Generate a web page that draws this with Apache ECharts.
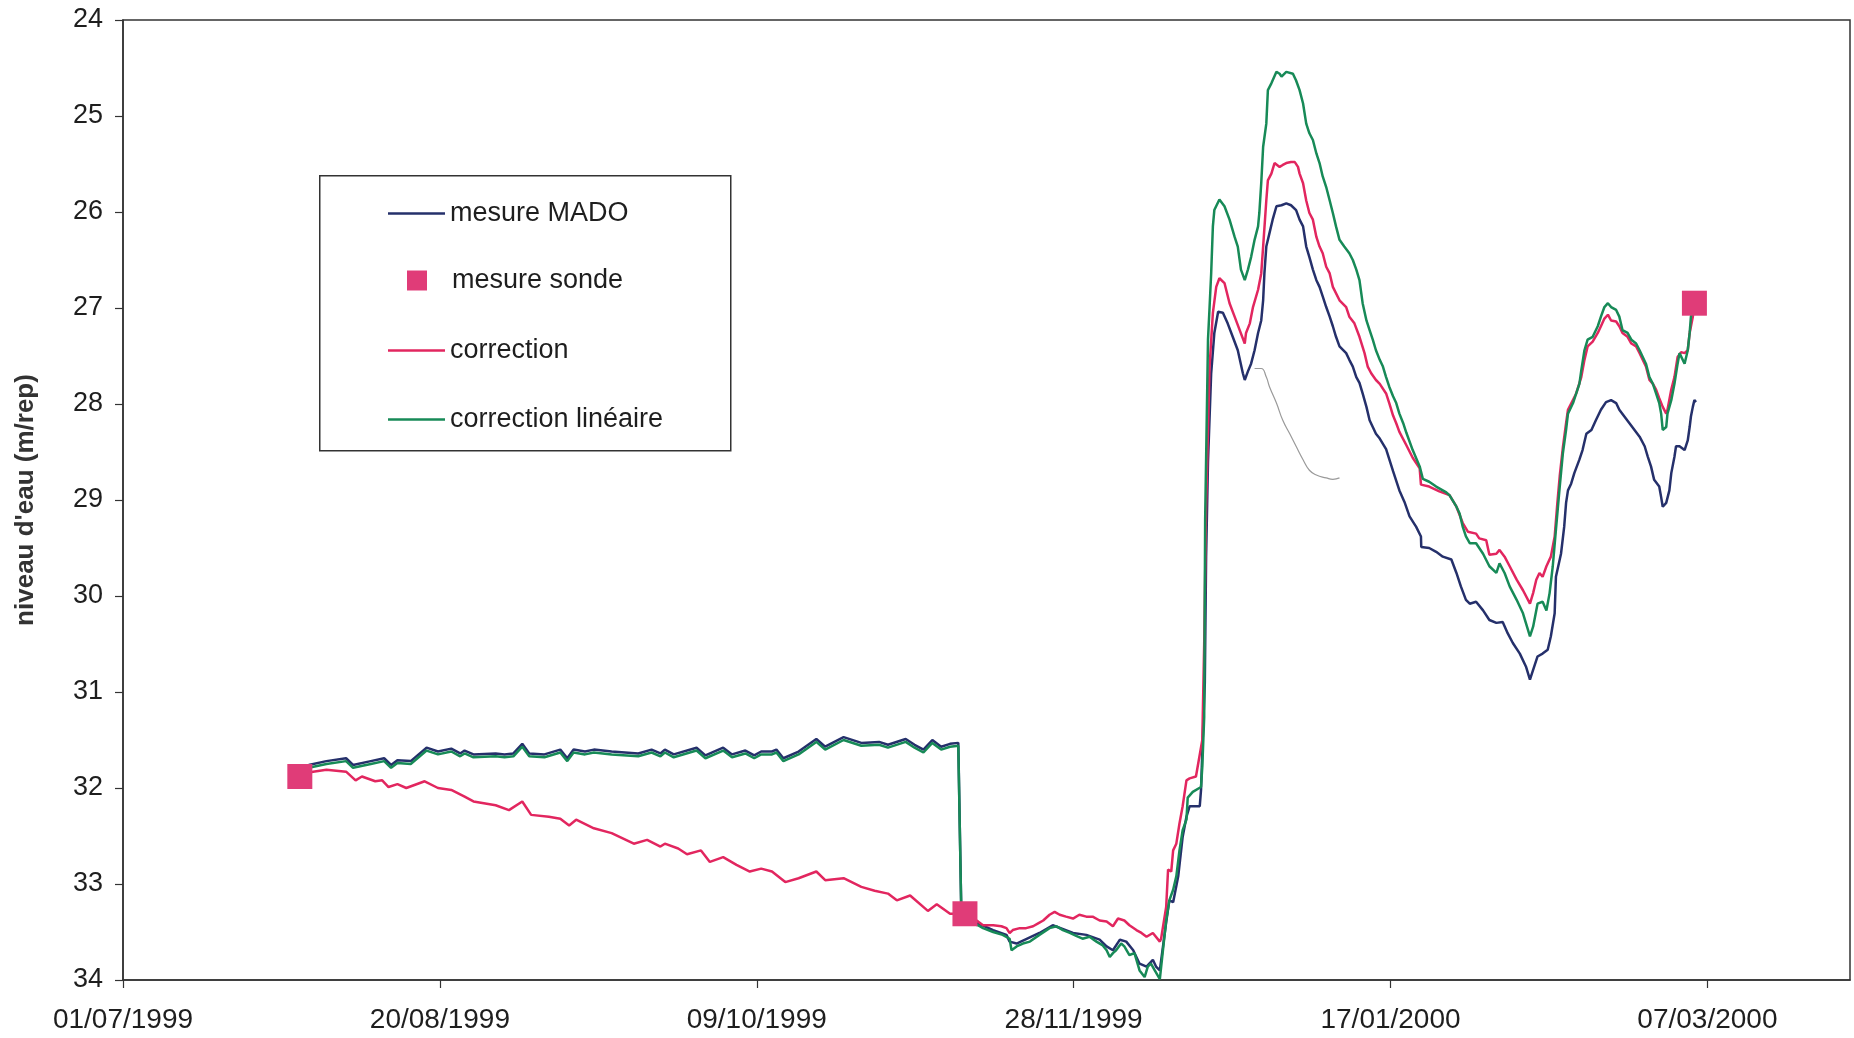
<!DOCTYPE html>
<html>
<head>
<meta charset="utf-8">
<script src="https://cdn.jsdelivr.net/npm/echarts@6/dist/echarts.min.js"></script>
<style>
html,body{margin:0;padding:0;background:#fff;}
#chart{width:1854px;height:1038px;}
</style>
</head>
<body>
<div id="chart"></div>
<script>
// ---------- DATA (x = days since 01/07/1999, y = niveau d'eau in m/rep) ----------
const xTickLabels = ['01/07/1999', '20/08/1999', '09/10/1999', '28/11/1999', '17/01/2000', '07/03/2000'];

const madoDays = [29.3, 32.1, 35.2, 36.3, 39.1, 41.2, 42.3, 43.3, 45.4, 47.9, 49.7, 51.8, 53.2, 53.9, 55.3, 58.8, 60.2, 61.6, 63.0, 64.1, 66.5, 69.0, 70.1, 71.1, 72.9, 74.3, 77.1, 81.3, 83.4, 84.8, 85.5, 86.9, 90.5, 91.9, 94.7, 96.1, 98.2, 99.6, 100.7, 102.4, 103.1, 104.2, 106.6, 109.4, 110.8, 113.7, 116.5, 119.3, 120.7, 123.5, 124.9, 126.3, 127.7, 129.1, 130.5, 131.8, 132.3,
  134.9, 137.3, 139.4, 139.9, 141.0, 144.6, 146.7, 149.9, 152.0, 154.1, 155.2, 156.2, 157.3, 158.3, 159.4, 160.4, 161.5, 162.5, 163.0, 163.6, 164.6, 165.1, 165.7, 166.5, 167.2, 167.8, 168.3, 169.9, 170.1, 170.4, 170.7, 170.9, 171.2, 171.7, 172.2, 172.8,
  173.55, 174.3, 175.1, 175.9, 176.7, 177.0, 177.5, 178.0, 178.55, 179.1, 179.6, 179.9, 180.1, 180.4, 180.9, 181.4, 182.0, 182.8, 183.55, 184.3, 185.1, 185.65, 186.2, 186.7, 187.2, 187.75, 188.3, 188.8, 189.3, 189.85, 190.4, 190.9, 191.4, 191.95, 193.0, 193.5, 194.05, 194.6, 195.1, 195.6, 196.2, 196.7, 197.2, 197.7, 198.3, 199.3, 200.4, 201.4, 202.2, 203.0, 204.05, 204.8, 204.85, 206.1, 207.2, 208.25, 209.6, 210.4, 211.1, 211.9, 212.5, 213.5, 214.6, 215.6, 216.7, 217.7, 218.5, 219.3, 220.4, 221.4, 222.0, 222.5, 223.2, 224.0, 224.8, 225.3, 225.9, 226.1, 226.9, 227.4, 227.7, 228.0, 228.5, 229.0, 229.8, 230.3, 230.9, 231.7, 232.4, 233.2, 234.0, 234.8, 235.6, 236.1, 236.9, 237.7, 238.5, 239.3, 240.1, 240.6, 241.1, 241.6, 242.4, 242.7, 242.95, 243.5, 244.0, 244.3, 244.8, 245.05, 245.6, 246.4, 246.9, 247.2, 247.4, 247.7, 247.95, 248.2];
const madoLevels = [31.76, 31.72, 31.69, 31.76, 31.72, 31.69, 31.76, 31.71, 31.72, 31.58, 31.62, 31.59, 31.64, 31.61, 31.65, 31.64, 31.65, 31.64, 31.54, 31.64, 31.65, 31.60, 31.69, 31.60, 31.62, 31.60, 31.62, 31.64, 31.60, 31.64, 31.60, 31.65, 31.58, 31.66, 31.58, 31.65, 31.61, 31.66, 31.62, 31.62, 31.60, 31.69, 31.62, 31.49, 31.57, 31.47, 31.53, 31.52, 31.55, 31.49, 31.55, 31.60, 31.50, 31.57, 31.54, 31.53, 33.38,
  33.41, 33.48, 33.53, 33.60, 33.62, 33.51, 33.43, 33.51, 33.53, 33.58, 33.65, 33.69, 33.58, 33.60, 33.69, 33.83, 33.86, 33.79, 33.86, 33.90, 33.40, 33.17, 33.19, 32.92, 32.51, 32.30, 32.19, 32.19, 32.02, 31.43, 30.90, 29.60, 28.60, 27.68, 27.26, 27.04,
  27.05, 27.16, 27.30, 27.44, 27.68, 27.75, 27.66, 27.58, 27.44, 27.26, 27.13, 26.92, 26.64, 26.36, 26.22, 26.08, 25.94, 25.93, 25.91, 25.93, 25.98, 26.08, 26.15, 26.36, 26.47, 26.60, 26.71, 26.78, 26.88, 26.99, 27.09, 27.19, 27.30, 27.40, 27.47, 27.54, 27.61, 27.72, 27.78, 27.89, 28.03, 28.17, 28.24, 28.31, 28.36, 28.47, 28.70, 28.90, 29.02, 29.17, 29.28, 29.38, 29.49, 29.50, 29.54, 29.59, 29.62, 29.76, 29.90, 30.04, 30.08, 30.06, 30.15, 30.25, 30.28, 30.27, 30.39, 30.49, 30.60, 30.74, 30.87, 30.77, 30.63, 30.60, 30.56, 30.42, 30.18, 29.80, 29.56, 29.28, 29.03, 28.90, 28.83, 28.72, 28.58, 28.48, 28.31, 28.27, 28.17, 28.06, 27.98, 27.96, 27.99, 28.06, 28.13, 28.20, 28.27, 28.34, 28.44, 28.55, 28.65, 28.79, 28.86, 28.97, 29.07, 29.03, 28.90, 28.72, 28.55, 28.44, 28.44, 28.48, 28.38, 28.24, 28.13, 28.03, 27.96, 27.98];

const correctionDays = [27.9, 30.0, 32.1, 35.2, 36.7, 37.7, 39.8, 40.9, 41.9, 43.3, 44.7, 47.6, 49.7, 51.8, 53.9, 55.3, 58.8, 60.9, 63.0, 64.4, 67.2, 69.0, 70.4, 71.5, 74.3, 77.1, 80.6, 82.7, 84.8, 85.5, 87.6, 89.0, 91.2, 92.6, 94.7, 96.8, 98.9, 100.7, 102.4, 104.5, 106.6, 109.4, 110.8, 113.7, 116.5, 118.6, 120.7, 122.1, 124.2, 127.0, 128.4, 130.5, 132.85,
  134.9, 135.7, 137.3, 138.6, 139.4, 139.9, 140.4, 141.5, 142.5, 143.6, 144.4, 145.2, 146.2, 147.0, 147.8, 148.8, 149.9, 150.9, 152.0, 153.0, 154.1, 155.2, 156.2, 157.0, 158.0, 158.8, 159.9, 160.7, 161.5, 162.5, 163.6, 163.8, 164.6, 164.9, 165.4, 165.7, 166.2, 166.7, 167.2, 167.8, 168.3, 169.3, 169.6, 170.3, 170.6, 170.9, 171.45, 171.97, 172.5, 173.0,
  173.8, 174.6, 175.4, 176.2, 177.0, 177.2, 177.8, 178.3, 179.1, 179.6, 179.9, 180.4, 180.65, 181.2, 181.7, 182.5, 183.0, 183.55, 184.3, 184.9, 185.4, 185.65, 186.2, 186.7, 187.2, 187.75, 188.3, 188.8, 189.3, 189.85, 190.4, 190.9, 191.95, 193.0, 193.5, 194.3, 195.1, 195.9, 196.4, 196.95, 197.7, 198.3, 199.3, 199.8, 200.4, 200.9, 201.4, 202.5, 203.5, 204.6, 204.8,
  206.1, 207.7, 209.3, 210.4, 211.4, 212.2, 213.5, 214.0, 215.1, 215.6, 216.7, 217.2, 218.0, 218.8, 219.9, 220.9, 222.0, 222.5, 223.0, 223.5, 224.0, 224.6, 225.3, 225.9, 226.3, 226.7, 227.2, 227.7, 228.0, 229.3, 230.1, 230.6, 231.1, 231.9, 232.7, 233.2, 233.75, 234.3, 234.8, 235.6, 236.1, 236.6, 237.4, 238.0, 238.75, 239.3, 240.3, 240.85, 241.4, 241.9, 242.4, 242.95, 243.5, 243.7, 244.3, 244.8, 245.3, 245.85, 246.4, 246.9, 247.2, 247.7, 247.95];
const correctionLevels = [31.88, 31.83, 31.81, 31.83, 31.92, 31.88, 31.93, 31.92, 31.99, 31.96, 32.00, 31.93, 32.00, 32.02, 32.09, 32.14, 32.18, 32.23, 32.14, 32.28, 32.30, 32.32, 32.39, 32.33, 32.42, 32.47, 32.58, 32.54, 32.61, 32.58, 32.63, 32.69, 32.65, 32.77, 32.72, 32.80, 32.87, 32.84, 32.87, 32.98, 32.94, 32.87, 32.96, 32.94, 33.03, 33.07, 33.10, 33.17, 33.12, 33.28, 33.21, 33.31, 33.31,
  33.39, 33.43, 33.43, 33.44, 33.46, 33.51, 33.48, 33.46, 33.46, 33.44, 33.41, 33.38, 33.32, 33.29, 33.32, 33.34, 33.36, 33.32, 33.34, 33.34, 33.38, 33.39, 33.44, 33.36, 33.38, 33.43, 33.48, 33.51, 33.55, 33.51, 33.60, 33.57, 33.24, 32.85, 32.87, 32.65, 32.58, 32.37, 32.19, 31.92, 31.90, 31.88, 31.90, 31.50, 30.50, 29.07, 27.61, 27.05, 26.78, 26.69,
  26.74, 26.95, 27.09, 27.23, 27.37, 27.26, 27.16, 26.99, 26.81, 26.64, 26.36, 25.88, 25.67, 25.60, 25.49, 25.53, 25.51, 25.49, 25.48, 25.48, 25.53, 25.60, 25.70, 25.88, 26.01, 26.08, 26.26, 26.36, 26.43, 26.57, 26.64, 26.78, 26.92, 26.99, 27.09, 27.16, 27.30, 27.47, 27.61, 27.68, 27.75, 27.79, 27.89, 27.99, 28.12, 28.20, 28.29, 28.43, 28.56, 28.67, 28.84,
  28.86, 28.91, 28.95, 29.07, 29.24, 29.33, 29.35, 29.40, 29.42, 29.57, 29.56, 29.52, 29.59, 29.69, 29.83, 29.94, 30.08, 29.97, 29.83, 29.76, 29.80, 29.69, 29.59, 29.38, 29.05, 28.75, 28.45, 28.20, 28.06, 27.89, 27.72, 27.54, 27.40, 27.35, 27.26, 27.19, 27.11, 27.07, 27.13, 27.14, 27.19, 27.26, 27.30, 27.37, 27.40, 27.47, 27.61, 27.75, 27.79, 27.85, 27.94, 28.03, 28.10, 28.06, 27.85, 27.72, 27.51, 27.46, 27.47, 27.44, 27.26, 27.09, 26.95];

const lineaireDays = [29.3, 32.1, 35.2, 36.3, 39.1, 41.2, 42.3, 43.3, 45.4, 47.9, 49.7, 51.8, 53.2, 53.9, 55.3, 58.8, 60.2, 61.6, 63.0, 64.1, 66.5, 69.0, 70.1, 71.1, 72.9, 74.3, 77.1, 81.3, 83.4, 84.8, 85.5, 86.9, 90.5, 91.9, 94.7, 96.1, 98.2, 99.6, 100.7, 102.4, 103.1, 104.2, 106.6, 109.4, 110.8, 113.7, 116.5, 119.3, 120.7, 123.5, 124.9, 126.3, 127.7, 129.1, 130.5, 131.8, 132.3,
  134.9, 135.7, 137.3, 138.8, 139.9, 140.2, 141.0, 142.0, 143.1, 144.6, 146.2, 147.3, 148.3, 149.4, 150.4, 151.4, 152.5, 153.6, 154.6, 155.2, 155.7, 156.2, 156.7, 157.5, 158.0, 158.8, 159.6, 160.4, 161.2, 161.7, 162.2, 162.8, 163.6, 163.8, 164.6, 165.1, 165.7, 166.2, 166.7, 167.2, 167.8, 168.0, 168.8, 170.1, 170.3, 170.6, 170.75, 171.2, 171.45, 171.7, 171.97, 172.2, 173.0,
  173.8, 174.6, 175.4, 175.9, 176.4, 177.0, 177.5, 178.0, 178.55, 179.1, 179.3, 179.6, 179.9, 180.4, 180.65, 181.2, 182.0, 182.5, 182.8, 183.55, 184.6, 185.1, 185.65, 186.2, 186.7, 187.2, 187.75, 188.3, 188.8, 189.3, 189.85, 190.4, 190.9, 191.4, 191.95, 192.7, 193.5, 194.05, 194.6, 195.1, 195.6, 196.2, 196.7, 197.2, 197.7, 198.3, 198.8, 199.3, 199.8, 200.4, 200.9, 201.4, 202.0, 202.5, 203.5, 204.6, 205.1, 206.1, 207.2, 208.8, 209.3, 210.4, 210.9,
  211.4, 211.9, 212.5, 213.5, 214.6, 215.6, 216.7, 217.2, 218.0, 218.8, 219.9, 220.9, 222.0, 222.5, 223.2, 224.0, 224.6, 225.1, 225.6, 226.1, 226.7, 227.2, 227.7, 228.0, 228.8, 229.3, 229.8, 230.1, 230.6, 231.1, 231.9, 232.7, 233.2, 233.75, 234.3, 234.8, 235.6, 236.1, 236.6, 237.4, 238.0, 238.75, 239.3, 239.8, 240.3, 240.85, 241.4, 241.9, 242.4, 242.7, 242.95, 243.5, 243.7, 244.3, 244.8, 245.3, 245.6, 246.4, 246.9, 247.2, 247.4, 247.95];
const lineaireLevels = [31.79, 31.75, 31.72, 31.79, 31.75, 31.72, 31.79, 31.74, 31.75, 31.61, 31.65, 31.62, 31.67, 31.64, 31.68, 31.67, 31.68, 31.67, 31.57, 31.67, 31.68, 31.63, 31.72, 31.63, 31.65, 31.63, 31.65, 31.67, 31.63, 31.67, 31.63, 31.68, 31.61, 31.69, 31.61, 31.68, 31.64, 31.69, 31.65, 31.65, 31.63, 31.72, 31.65, 31.52, 31.60, 31.50, 31.56, 31.55, 31.58, 31.52, 31.58, 31.63, 31.53, 31.60, 31.57, 31.56, 33.38,
  33.43, 33.46, 33.50, 33.53, 33.57, 33.69, 33.65, 33.62, 33.60, 33.53, 33.46, 33.44, 33.48, 33.51, 33.54, 33.57, 33.55, 33.60, 33.64, 33.69, 33.76, 33.72, 33.69, 33.62, 33.65, 33.74, 33.72, 33.90, 33.97, 33.86, 33.83, 33.90, 33.99, 33.97, 33.38, 33.17, 33.06, 32.92, 32.65, 32.44, 32.33, 32.10, 32.04, 31.99, 31.78, 31.26, 29.21, 27.33, 26.99, 26.64, 26.15, 25.98, 25.87,
  25.94, 26.08, 26.26, 26.36, 26.60, 26.71, 26.60, 26.47, 26.29, 26.15, 26.01, 25.70, 25.32, 25.08, 24.73, 24.66, 24.54, 24.56, 24.59, 24.54, 24.56, 24.63, 24.73, 24.87, 25.08, 25.18, 25.25, 25.39, 25.49, 25.63, 25.74, 25.88, 26.01, 26.15, 26.29, 26.36, 26.43, 26.50, 26.60, 26.71, 26.95, 27.13, 27.23, 27.33, 27.44, 27.54, 27.61, 27.72, 27.82, 27.92, 27.99, 28.10, 28.20, 28.30, 28.48, 28.65, 28.78, 28.81, 28.86, 28.92, 28.95, 29.07, 29.14,
  29.28, 29.38, 29.45, 29.45, 29.56, 29.69, 29.76, 29.66, 29.76, 29.90, 30.04, 30.18, 30.42, 30.32, 30.08, 30.06, 30.15, 29.97, 29.69, 29.31, 28.86, 28.51, 28.27, 28.10, 27.99, 27.89, 27.79, 27.65, 27.44, 27.33, 27.30, 27.19, 27.09, 26.99, 26.95, 26.99, 27.02, 27.09, 27.23, 27.26, 27.33, 27.37, 27.44, 27.51, 27.58, 27.72, 27.79, 27.89, 27.99, 28.10, 28.27, 28.24, 28.10, 27.96, 27.79, 27.58, 27.47, 27.58, 27.44, 27.26, 27.09, 26.95];

const sondeDays = [27.9, 132.85, 247.95];
const sondeLevels = [31.88, 33.31, 26.95];

// faint grey stroke visible on the scanned original
const strokeDays = [178.55, 179.6, 180.4, 180.9, 182.0, 183.0, 184.1, 185.1, 186.2, 187.2, 188.3, 189.85, 190.9, 191.95];
const strokeLevels = [27.63, 27.63, 27.72, 27.82, 27.99, 28.17, 28.31, 28.44, 28.58, 28.69, 28.74, 28.77, 28.785, 28.77];

// ---------- CHART ----------
const pairs = (d, v) => d.map((x, i) => [x, v[i]]);
const FONT = "'Liberation Sans', Arial, Helvetica, sans-serif";
const TXT = '#1e1e1e';
const C_MADO = '#25306b', C_CORR = '#e2265f', C_LIN = '#178a57', C_SONDE = '#e03c78';

const chart = echarts.init(document.getElementById('chart'), null, { renderer: 'canvas' });

const lineSeries = (name, d, v, color, z) => ({
  name, type: 'line', data: pairs(d, v), symbol: 'none', showSymbol: false,
  lineStyle: { color, width: 2.5 }, itemStyle: { color }, z, animation: false
});

const legendText = { fontFamily: FONT, fontSize: 27, color: TXT };
const lineLegend = (name, top) => ({
  data: [{ name, icon: 'rect' }], orient: 'vertical', left: 388, top, padding: 0,
  itemWidth: 57, itemHeight: 2.5, selectedMode: false, textStyle: legendText
});

chart.setOption({
  animation: false,
  backgroundColor: '#ffffff',
  grid: { left: 123, right: 4, top: 20, bottom: 58, show: true, borderColor: '#333', borderWidth: 1.5, backgroundColor: 'transparent' },
  xAxis: {
    type: 'value', min: 0, max: 272.5, interval: 50,
    axisLine: { show: true, lineStyle: { color: '#333', width: 1.5 } },
    axisTick: { show: true, length: 8, lineStyle: { color: '#333', width: 1.2 } },
    splitLine: { show: false },
    axisLabel: {
      fontFamily: FONT, fontSize: 28, color: TXT, margin: 26, showMaxLabel: false,
      formatter: v => { const i = Math.round(v / 50); return Math.abs(v - i * 50) < 1e-6 ? (xTickLabels[i] || '') : ''; }
    }
  },
  yAxis: {
    type: 'value', inverse: true, min: 24, max: 34, interval: 1,
    name: "niveau d'eau (m/rep)", nameLocation: 'middle', nameGap: 84, nameRotate: 90,
    nameTextStyle: { fontFamily: FONT, fontSize: 26, fontWeight: 'bold', color: '#333' },
    axisLine: { show: true, lineStyle: { color: '#333', width: 1.5 } },
    axisTick: { show: true, length: 8, lineStyle: { color: '#333', width: 1.2 } },
    splitLine: { show: false },
    axisLabel: { fontFamily: FONT, fontSize: 27, color: TXT, margin: 20 }
  },
  legend: [
    lineLegend('mesure MADO', 200),
    { data: [{ name: 'mesure sonde', icon: 'rect' }], orient: 'vertical', left: 407, top: 267, padding: 0,
      itemWidth: 20, itemHeight: 20, selectedMode: false,
      textStyle: Object.assign({}, legendText, { padding: [0, 0, 0, 20] }) },
    lineLegend('correction', 337),
    lineLegend('correction linéaire', 406)
  ],
  graphic: [{
    type: 'rect', left: 319, top: 175, z: -1,
    shape: { width: 411, height: 275 },
    style: { fill: '#fff', stroke: '#333', lineWidth: 1.5 }
  }],
  series: [
    { name: 'trait', type: 'line', data: pairs(strokeDays, strokeLevels), symbol: 'none', smooth: true,
      lineStyle: { color: '#9a9a9a', width: 1.2 }, z: 1, silent: true },
    lineSeries('mesure MADO', madoDays, madoLevels, C_MADO, 2),
    lineSeries('correction', correctionDays, correctionLevels, C_CORR, 3),
    lineSeries('correction linéaire', lineaireDays, lineaireLevels, C_LIN, 4),
    { name: 'mesure sonde', type: 'scatter', data: pairs(sondeDays, sondeLevels), symbol: 'rect', symbolSize: 25,
      itemStyle: { color: C_SONDE, opacity: 1 }, z: 5 }
  ]
});
</script>
</body>
</html>
